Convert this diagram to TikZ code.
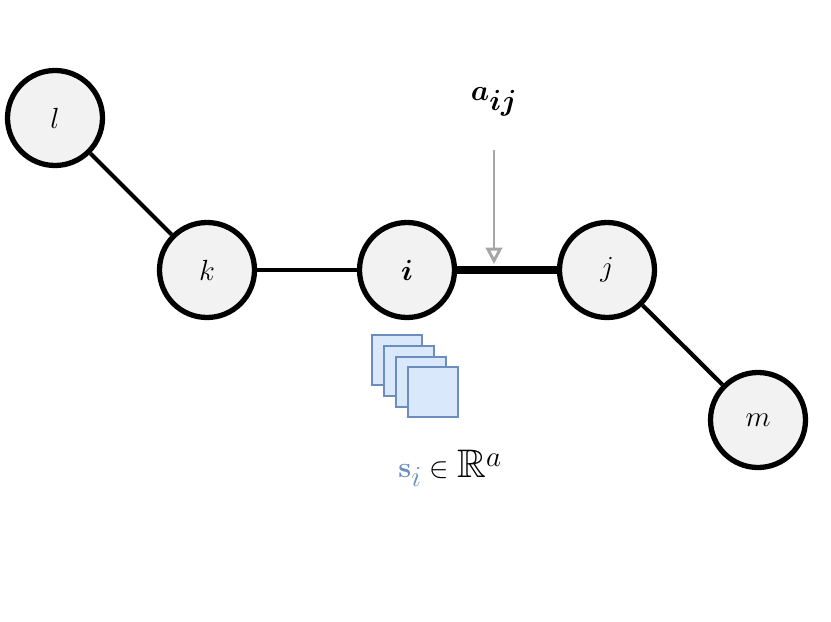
\documentclass[tikz,border=0pt]{standalone}
\usepackage{amsmath,amssymb,bm}
\usetikzlibrary{arrows.meta}
\definecolor{nodefill}{HTML}{F2F2F2}
\definecolor{sqfill}{HTML}{DAE8FC}
\definecolor{sqdraw}{HTML}{6C8EBF}
\tikzset{
  vtx/.style={circle,draw=black,fill=nodefill,line width=4.5pt,minimum size=2.85cm,inner sep=0pt,font=\fontsize{30}{32}\selectfont},
  edge/.style={line width=3.6pt},
  sq/.style={draw=sqdraw,fill=sqfill,line width=1pt,minimum size=1.5cm,inner sep=0pt}
}
\begin{document}
\begin{tikzpicture}[x=0.03cm,y=-0.03cm]
\useasboundingbox (0,0) rectangle (831,622);
\node[vtx] (l) at (55,118) {$l$};
\node[vtx] (k) at (207,270) {$k$};
\node[vtx] (i) at (407,270) {$\bm{i}$};
\node[vtx] (j) at (607,270) {$j$};
\node[vtx] (m) at (758,420) {$m$};
\begin{scope}[on background layer/.try]
\end{scope}
\draw[edge] (l) -- (k);
\draw[edge] (k) -- (i);
\draw[line width=7pt] (i) -- (j);
\draw[edge] (j) -- (m);
\node[font=\fontsize{40}{42}\selectfont] (a) at (494,102) {$\bm{a_{ij}}$};
\coordinate (atip) at (494,264);
\draw[-{Triangle[open,length=14pt,width=14pt]},line width=2.5pt,draw=gray!70] (494,150) -- (atip);
\node[sq] (s1) at (397,360) {};
\node[sq] (s2) at (409,371) {};
\node[sq] (s3) at (421,382) {};
\node[sq] (s4) at (433,392) {};
\node[font=\fontsize{34}{36}\selectfont] (lbl) at (450,468) {$\color{sqdraw}\mathbf{s}_{i}\color{black}\in\mathbb{R}^{a}$};
\end{tikzpicture}
\end{document}
